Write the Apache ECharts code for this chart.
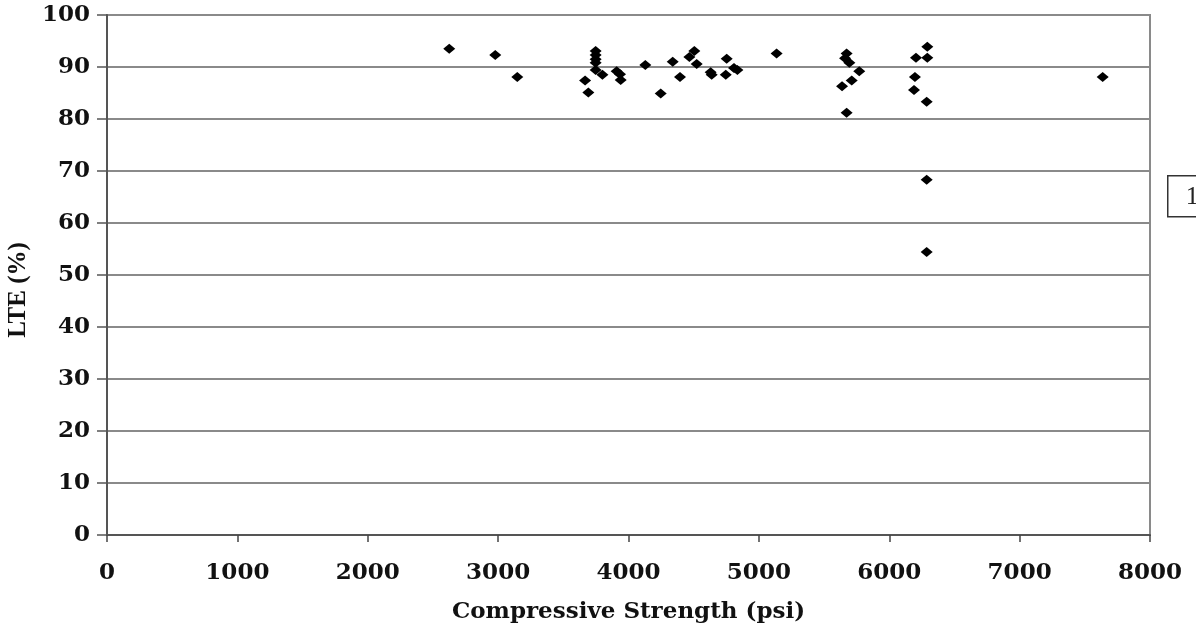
<!DOCTYPE html>
<html>
<head>
<meta charset="utf-8">
<script src="https://cdn.jsdelivr.net/npm/echarts@6/dist/echarts.min.js"></script>
<style>
  html, body { margin: 0; padding: 0; background: #fff; }
  #chart { width: 1196px; height: 630px; }
</style>
</head>
<body>
<div id="chart"></div>
<script>
// Compressive strength of each section (psi)
const strengthPsi = [
  2625, 2978, 3147, 3748, 3748, 3748, 3748, 3748, 3800, 3667, 3692,
  3909, 3935, 3940, 4129, 4247, 4339, 4395, 4467, 4505, 4523, 4630,
  4638, 4746, 4753, 4809, 4835, 5136, 5673, 5661, 5694, 5770, 5712,
  5638, 5673, 6292, 6205, 6292, 6197, 6190, 6287, 6287, 6287, 7637
];
// Load transfer efficiency measured at the same sections (%)
const ltePercent = [
  93.5, 92.3, 88.1, 93.1, 92.3, 91.5, 90.8, 89.4, 88.5, 87.4, 85.1,
  89.2, 88.6, 87.5, 90.4, 84.9, 91.0, 88.1, 91.9, 93.1, 90.6, 89.0,
  88.5, 88.5, 91.6, 89.8, 89.4, 92.6, 92.6, 91.7, 90.8, 89.2, 87.4,
  86.3, 81.2, 93.9, 91.8, 91.8, 88.1, 85.6, 83.3, 68.3, 54.4, 88.1
];
const xTitle = 'Compressive Strength (psi)';
const yTitle = 'LTE (%)';

const points = strengthPsi.map((s, i) => [s, ltePercent[i]]);

const labelFont = {
  fontFamily: 'DejaVu Serif',
  fontWeight: 'bold',
  fontSize: 23,
  color: '#111'
};
const plain = v => String(v);

const chart = echarts.init(document.getElementById('chart'), null, { renderer: 'canvas' });
chart.setOption({
  animation: false,
  backgroundColor: '#fff',
  grid: {
    left: 107, top: 15, right: 46, bottom: 95,
    containLabel: false,
    outerBoundsMode: 'none',
    show: true, borderColor: '#8a8a8a', borderWidth: 2
  },
  xAxis: {
    type: 'value',
    min: 0, max: 8000, interval: 1000,
    name: xTitle,
    nameLocation: 'middle',
    nameGap: 66,
    nameTextStyle: labelFont,
    axisLine: { show: true, onZero: false, lineStyle: { color: '#555', width: 2 } },
    axisTick: { show: true, length: 7, lineStyle: { color: '#444', width: 1.5 } },
    axisLabel: Object.assign({ margin: 27, formatter: plain }, labelFont),
    splitLine: { show: false }
  },
  yAxis: {
    type: 'value',
    min: 0, max: 100, interval: 10,
    name: yTitle,
    nameLocation: 'middle',
    nameGap: 76,
    nameRotate: 90,
    nameTextStyle: {
      fontFamily: 'Liberation Serif', fontWeight: 'bold', fontSize: 25, color: '#111',
      padding: [0, 30, 0, 0]
    },
    axisLine: { show: true, onZero: false, lineStyle: { color: '#555', width: 2 } },
    axisTick: { show: true, length: 10, lineStyle: { color: '#555', width: 1.5 } },
    axisLabel: Object.assign({ margin: 17, padding: [10, 0, 0, 0], formatter: plain }, labelFont),
    splitLine: { show: true, lineStyle: { color: '#8a8a8a', width: 2 } }
  },
  series: [{
    type: 'scatter',
    data: points,
    symbol: 'diamond',
    symbolSize: [12, 10],
    itemStyle: { color: '#000', opacity: 1 }
  }],
  graphic: [{
    type: 'group',
    left: 1167, top: 175,
    children: [{
      type: 'rect',
      shape: { x: 0, y: 0, width: 40, height: 41 },
      style: { fill: '#fff', stroke: '#333', lineWidth: 1.5 }
    }, {
      type: 'text',
      x: 18, y: 21,
      style: {
        text: '1',
        font: '26px "Liberation Serif"',
        fill: '#222',
        verticalAlign: 'middle'
      }
    }]
  }]
});
</script>
</body>
</html>
